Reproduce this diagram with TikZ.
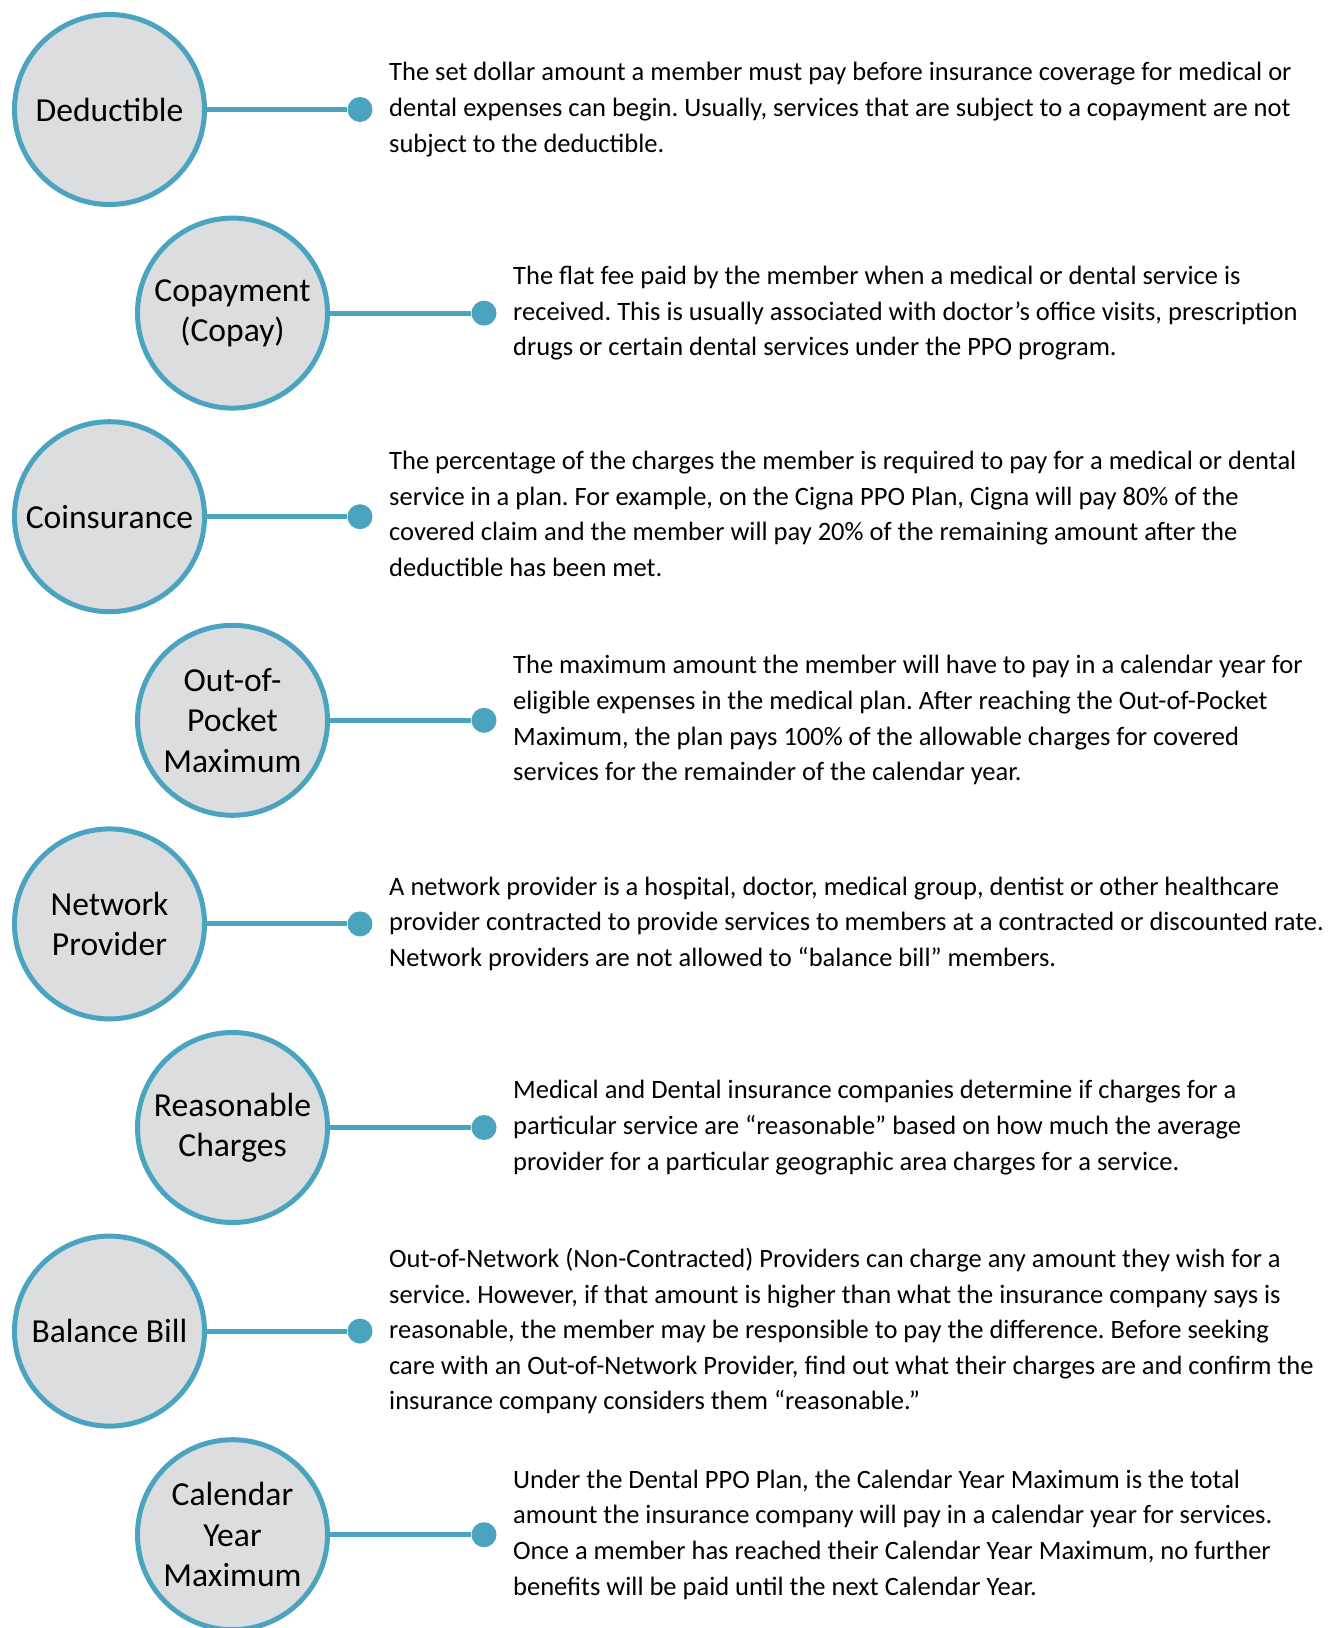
\documentclass[tikz,border=0pt]{standalone}
\usepackage{fontspec}
\setmainfont{Carlito}
\frenchspacing
\definecolor{rim}{HTML}{4BA4BF}
\definecolor{disc}{HTML}{DCDDDF}
\tikzset{term/.style = {circle, draw = rim, fill = disc, line width = 5pt, minimum size = 190pt, inner sep = 0pt, align = center, font = \fontsize{33.6}{40.5}\selectfont},
  knob/.style = {circle, fill = rim, minimum size = 25pt, inner sep = 0pt},
  link/.style = {rim, line width = 5pt},
  desc/.style = {anchor = west, align = left, inner sep = 0pt, font = \fontsize{26.5}{35.6}\selectfont}}

\begin{document}
\begin{tikzpicture}[x = 1pt, y = -1pt]
    \useasboundingbox (0,0) rectangle (1330,1628);
    \node[term] (ded) at (109.5,109.5) {Deductible};
    \node[knob] (dedk) at (360,109.5) {};
    \draw[link] (ded) -- (dedk);
    \node[desc] (dedt) at (389,109.5) {The set dollar amount a member must pay before insurance coverage for medical or\\dental expenses can begin. Usually, services that are subject to a copayment are not\\subject to the deductible.};
    \node[term] (cop) at (232.5,313.1) {Copayment\\(Copay)};
    \node[knob] (copk) at (484,313.1) {};
    \draw[link] (cop) -- (copk);
    \node[desc] (copt) at (513,313.1) {The flat fee paid by the member when a medical or dental service is\\received. This is usually associated with doctor’s office visits, prescription\\drugs or certain dental services under the PPO program.};
    \node[term] (coi) at (109.5,516.7) {Coinsurance};
    \node[knob] (coik) at (360,516.7) {};
    \draw[link] (coi) -- (coik);
    \node[desc] (coit) at (389,514) {The percentage of the charges the member is required to pay for a medical or dental\\service in a plan. For example, on the Cigna PPO Plan, Cigna will pay 80\% of the\\covered claim and the member will pay 20\% of the remaining amount after the\\deductible has been met.};
    \node[term] (oop) at (232.5,720.3) {Out-of-\\Pocket\\Maximum};
    \node[knob] (oopk) at (484,720.3) {};
    \draw[link] (oop) -- (oopk);
    \node[desc] (oopt) at (513,720.3) {The maximum amount the member will have to pay in a calendar year for\\eligible expenses in the medical plan. After reaching the Out-of-Pocket\\Maximum, the plan pays 100\% of the allowable charges for covered\\services for the remainder of the calendar year.};
    \node[term] (net) at (109.5,923.9) {Network\\Provider};
    \node[knob] (netk) at (360,923.9) {};
    \draw[link] (net) -- (netk);
    \node[desc] (nett) at (389,923.9) {A network provider is a hospital, doctor, medical group, dentist or other healthcare\\provider contracted to provide services to members at a contracted or discounted rate.\\Network providers are not allowed to “balance bill” members.};
    \node[term] (rea) at (232.5,1127.5) {Reasonable\\Charges};
    \node[knob] (reak) at (484,1127.5) {};
    \draw[link] (rea) -- (reak);
    \node[desc] (reat) at (513,1127.5) {Medical and Dental insurance companies determine if charges for a\\particular service are “reasonable” based on how much the average\\provider for a particular geographic area charges for a service.};
    \node[term] (bal) at (109.5,1331.1) {Balance Bill};
    \node[knob] (balk) at (360,1331.1) {};
    \draw[link] (bal) -- (balk);
    \node[desc] (balt) at (389,1331.1) {Out-of-Network (Non-Contracted) Providers can charge any amount they wish for a\\service. However, if that amount is higher than what the insurance company says is\\reasonable, the member may be responsible to pay the difference. Before seeking\\care with an Out-of-Network Provider, find out what their charges are and confirm the\\insurance company considers them “reasonable.”};
    \node[term] (cal) at (232.5,1534.7) {Calendar\\Year\\Maximum};
    \node[knob] (calk) at (484,1534.7) {};
    \draw[link] (cal) -- (calk);
    \node[desc] (calt) at (513,1534.7) {Under the Dental PPO Plan, the Calendar Year Maximum is the total\\amount the insurance company will pay in a calendar year for services.\\Once a member has reached their Calendar Year Maximum, no further\\benefits will be paid until the next Calendar Year.};
\end{tikzpicture}
\end{document}
